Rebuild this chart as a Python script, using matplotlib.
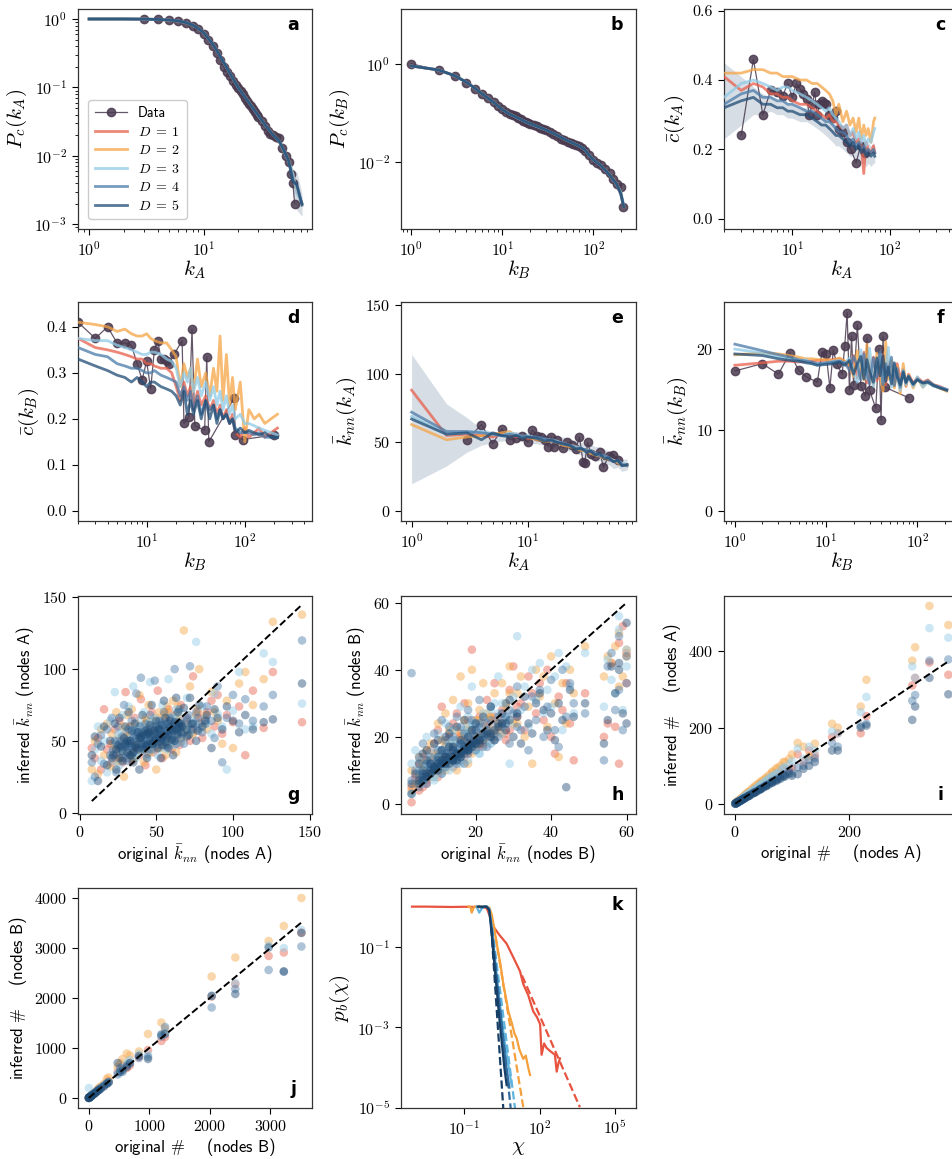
import numpy as np
import matplotlib
matplotlib.use('Agg')
import matplotlib.pyplot as plt
from matplotlib.ticker import NullLocator, FixedLocator, FormatStrFormatter

plt.rcParams.update({
    'font.family': 'cmr10',
    'mathtext.fontset': 'cm',
    'axes.formatter.use_mathtext': True,
    'axes.unicode_minus': False,
    'font.size': 11.5,
    'axes.linewidth': 0.9,
    'axes.edgecolor': '#333333',
    'xtick.labelsize': 11.5,
    'ytick.labelsize': 11.5,
    'xtick.major.size': 4.5,
    'ytick.major.size': 4.5,
    'xtick.minor.size': 2.5,
    'ytick.minor.size': 2.5,
})

col_data = '#4a3a4f'
cols = ['#e8604c', '#f6a445', '#8ecae6', '#4a7aa8', '#1f4b74']
labels_D = [r'$D \;=\; 1$', r'$D \;=\; 2$', r'$D \;=\; 3$', r'$D \;=\; 4$', r'$D \;=\; 5$']

# ---------------- panel a : CCDF of k_A ----------------
a_k = [3, 4, 5, 6, 7, 8, 9, 10, 11, 12, 13, 14, 15, 16, 17, 18, 19, 20, 21, 22, 23, 24, 25, 26,
       27, 28, 29, 30, 32, 34, 36, 38, 40, 43, 45, 48, 52, 55, 58, 60, 62]
a_data = [1.0, 0.99, 0.97, 0.94, 0.88, 0.80, 0.71, 0.61, 0.50, 0.40, 0.32, 0.25, 0.20, 0.17, 0.145,
          0.125, 0.11, 0.098, 0.088, 0.079, 0.071, 0.064, 0.058, 0.053, 0.048, 0.044, 0.040, 0.037,
          0.032, 0.027, 0.023, 0.021, 0.020, 0.019, 0.018, 0.013, 0.010, 0.008, 0.0055, 0.004, 0.002]
a_km = [1, 2, 3, 4, 5, 6, 7, 8, 9, 10, 12, 14, 16, 18, 20, 23, 26, 30, 35, 40, 45, 50, 55, 60, 65, 72]
a_D1 = [1.0, 1.0, 0.995, 0.985, 0.965, 0.935, 0.885, 0.815, 0.725, 0.63, 0.43, 0.28, 0.19, 0.135,
        0.10, 0.072, 0.054, 0.039, 0.027, 0.0205, 0.017, 0.012, 0.0085, 0.0052, 0.003, 0.002]
a_D2 = [1.0, 1.0, 0.995, 0.984, 0.963, 0.933, 0.884, 0.815, 0.727, 0.632, 0.432, 0.282, 0.19, 0.136,
        0.101, 0.073, 0.055, 0.039, 0.027, 0.021, 0.017, 0.012, 0.0088, 0.0048, 0.0032, 0.002]
a_D3 = [1.0, 1.0, 0.995, 0.985, 0.964, 0.934, 0.885, 0.814, 0.724, 0.628, 0.428, 0.279, 0.189, 0.134,
        0.099, 0.072, 0.054, 0.038, 0.027, 0.0205, 0.0168, 0.0118, 0.0083, 0.0055, 0.0028, 0.002]
a_D4 = [1.0, 1.0, 0.995, 0.985, 0.965, 0.935, 0.886, 0.816, 0.726, 0.63, 0.43, 0.28, 0.19, 0.135,
        0.10, 0.072, 0.054, 0.039, 0.027, 0.0205, 0.017, 0.0122, 0.0086, 0.0045, 0.0036, 0.002]
a_D5 = [1.0, 1.0, 0.995, 0.985, 0.965, 0.935, 0.885, 0.815, 0.725, 0.63, 0.43, 0.28, 0.19, 0.135,
        0.10, 0.072, 0.054, 0.039, 0.027, 0.0205, 0.017, 0.012, 0.0085, 0.0042, 0.0038, 0.0019]
a_lo = [0.99, 0.99, 0.985, 0.975, 0.955, 0.925, 0.875, 0.805, 0.715, 0.62, 0.42, 0.272, 0.184, 0.13,
        0.096, 0.069, 0.051, 0.036, 0.025, 0.0188, 0.0152, 0.0104, 0.007, 0.0028, 0.0016, 0.0013]
a_hi = [1.0, 1.0, 1.0, 0.995, 0.975, 0.945, 0.895, 0.825, 0.735, 0.64, 0.44, 0.288, 0.196, 0.14,
        0.104, 0.075, 0.057, 0.042, 0.029, 0.0222, 0.0188, 0.0136, 0.010, 0.0062, 0.0058, 0.0028]

# ---------------- panel b : CCDF of k_B ----------------
b_k = [1, 2, 3, 4, 5, 6, 7, 8, 9, 10, 11, 12, 13, 14, 15, 16, 17, 18, 19, 20, 22, 24, 26, 28, 30,
       33, 36, 40, 44, 48, 52, 56, 60, 65, 70, 75, 80, 90, 100, 110, 120, 135, 150, 165, 180, 200, 210]
b_data = [1.02, 0.75, 0.57, 0.42, 0.31, 0.24, 0.20, 0.165, 0.14, 0.12, 0.107, 0.097, 0.09, 0.085,
          0.079, 0.074, 0.07, 0.066, 0.063, 0.06, 0.057, 0.053, 0.05, 0.047, 0.044, 0.04, 0.037,
          0.033, 0.03, 0.028, 0.026, 0.024, 0.023, 0.022, 0.021, 0.0195, 0.017, 0.014, 0.011,
          0.0095, 0.0088, 0.007, 0.0058, 0.0045, 0.0035, 0.003, 0.0012]
b_km = [1, 2, 3, 4, 5, 6, 7, 8, 10, 12, 15, 18, 20, 25, 30, 40, 50, 60, 70, 80, 90, 100, 120, 150,
        180, 200, 215]
b_D1 = [0.92, 0.76, 0.58, 0.43, 0.32, 0.245, 0.20, 0.165, 0.118, 0.095, 0.078, 0.066, 0.061, 0.052,
        0.045, 0.035, 0.028, 0.024, 0.021, 0.018, 0.0135, 0.011, 0.0085, 0.0055, 0.0035, 0.0022, 0.0012]
b_D2 = [0.92, 0.76, 0.58, 0.43, 0.32, 0.246, 0.20, 0.166, 0.119, 0.096, 0.078, 0.066, 0.061, 0.052,
        0.045, 0.035, 0.028, 0.024, 0.021, 0.018, 0.0136, 0.011, 0.0086, 0.0056, 0.0036, 0.0023, 0.0012]
b_D3 = [0.92, 0.76, 0.58, 0.43, 0.32, 0.245, 0.20, 0.165, 0.118, 0.095, 0.077, 0.066, 0.060, 0.051,
        0.045, 0.035, 0.028, 0.024, 0.021, 0.018, 0.0134, 0.011, 0.0084, 0.0055, 0.0034, 0.0024, 0.0013]
b_D4 = [0.92, 0.76, 0.58, 0.43, 0.32, 0.245, 0.20, 0.165, 0.118, 0.095, 0.078, 0.066, 0.061, 0.052,
        0.045, 0.035, 0.028, 0.024, 0.021, 0.018, 0.0135, 0.011, 0.0085, 0.0054, 0.0035, 0.0021, 0.0012]
b_D5 = [0.92, 0.76, 0.58, 0.43, 0.32, 0.245, 0.20, 0.165, 0.118, 0.095, 0.078, 0.066, 0.061, 0.052,
        0.045, 0.035, 0.028, 0.024, 0.021, 0.018, 0.0135, 0.011, 0.0085, 0.0055, 0.0035, 0.0022, 0.0012]

# ---------------- panel c : clustering vs k_A ----------------
c_k = [3, 4, 5, 6, 7, 8, 9, 10, 11, 12, 13, 14, 15, 16, 17, 18, 19, 20, 21, 22, 24, 26, 28, 30,
       33, 36, 40, 45, 50, 55]
c_data = [0.24, 0.46, 0.30, 0.37, 0.365, 0.355, 0.39, 0.35, 0.39, 0.375, 0.36, 0.345, 0.30, 0.33,
          0.365, 0.30, 0.33, 0.34, 0.335, 0.33, 0.30, 0.29, 0.31, 0.26, 0.25, 0.22, 0.20, 0.16,
          0.21, 0.19]
c_km = [2, 3, 4, 5, 6, 7, 8, 9, 10, 12, 14, 16, 18, 20, 22, 24, 26, 28, 30, 33, 36, 39, 42, 45,
        48, 51, 54, 57, 60, 64, 68, 70]
c_D1 = [0.41, 0.37, 0.39, 0.38, 0.36, 0.36, 0.35, 0.35, 0.34, 0.33, 0.33, 0.32, 0.31, 0.30, 0.29,
        0.30, 0.28, 0.28, 0.27, 0.26, 0.27, 0.24, 0.25, 0.22, 0.23, 0.21, 0.13, 0.22, 0.20, 0.19, 0.21, 0.19]
c_D2 = [0.42, 0.42, 0.43, 0.43, 0.42, 0.42, 0.41, 0.41, 0.41, 0.40, 0.40, 0.39, 0.39, 0.38, 0.37,
        0.36, 0.34, 0.30, 0.33, 0.28, 0.31, 0.27, 0.29, 0.25, 0.29, 0.23, 0.27, 0.24, 0.26, 0.22, 0.28, 0.29]
c_D3 = [0.35, 0.39, 0.40, 0.39, 0.38, 0.37, 0.38, 0.38, 0.37, 0.36, 0.35, 0.34, 0.33, 0.32, 0.31,
        0.32, 0.30, 0.29, 0.28, 0.26, 0.27, 0.24, 0.26, 0.23, 0.25, 0.22, 0.24, 0.21, 0.23, 0.22, 0.25, 0.26]
c_D4 = [0.33, 0.36, 0.37, 0.35, 0.35, 0.34, 0.34, 0.33, 0.33, 0.32, 0.31, 0.31, 0.30, 0.29, 0.28,
        0.28, 0.27, 0.26, 0.25, 0.25, 0.24, 0.22, 0.23, 0.21, 0.22, 0.20, 0.21, 0.19, 0.20, 0.19, 0.20, 0.19]
c_D5 = [0.32, 0.34, 0.35, 0.33, 0.33, 0.32, 0.32, 0.31, 0.31, 0.30, 0.30, 0.29, 0.28, 0.27, 0.27,
        0.26, 0.25, 0.24, 0.24, 0.23, 0.22, 0.21, 0.22, 0.20, 0.21, 0.19, 0.20, 0.18, 0.19, 0.18, 0.19, 0.18]
c_lo = [0.23, 0.27, 0.30, 0.30, 0.31, 0.30, 0.30, 0.29, 0.29, 0.28, 0.28, 0.27, 0.26, 0.25, 0.24,
        0.23, 0.22, 0.21, 0.21, 0.20, 0.19, 0.18, 0.18, 0.17, 0.17, 0.16, 0.16, 0.15, 0.16, 0.15, 0.16, 0.16]
c_hi = [0.45, 0.41, 0.38, 0.36, 0.35, 0.34, 0.34, 0.33, 0.33, 0.32, 0.32, 0.31, 0.30, 0.29, 0.29,
        0.28, 0.28, 0.27, 0.27, 0.26, 0.25, 0.24, 0.25, 0.23, 0.24, 0.22, 0.23, 0.21, 0.22, 0.21, 0.22, 0.21]

# ---------------- panel d : clustering vs k_B ----------------
d_k = [2, 3, 4, 5, 6, 7, 8, 9, 10, 11, 12, 13, 14, 15, 16, 17, 19, 23, 24, 27, 29, 31, 39, 41, 43,
       78, 80, 95, 200]
d_data = [0.41, 0.375, 0.40, 0.365, 0.365, 0.36, 0.32, 0.285, 0.325, 0.265, 0.35, 0.37, 0.33, 0.33,
          0.325, 0.32, 0.34, 0.37, 0.19, 0.205, 0.395, 0.185, 0.175, 0.335, 0.15, 0.245, 0.165,
          0.155, 0.165]
d_km = [2, 3, 4, 5, 6, 7, 8, 9, 10, 11, 12, 14, 16, 18, 20, 22, 24, 26, 28, 30, 33, 36, 40, 44,
        48, 52, 56, 60, 65, 70, 75, 80, 90, 100, 110, 125, 140, 160, 185, 215]
d_D1 = [0.375, 0.355, 0.35, 0.345, 0.34, 0.335, 0.33, 0.33, 0.32, 0.32, 0.315, 0.31, 0.31, 0.30,
        0.27, 0.24, 0.28, 0.25, 0.27, 0.22, 0.26, 0.23, 0.25, 0.22, 0.24, 0.21, 0.23, 0.20, 0.22,
        0.19, 0.21, 0.17, 0.16, 0.18, 0.16, 0.17, 0.18, 0.16, 0.17, 0.18]
d_D2 = [0.41, 0.405, 0.40, 0.39, 0.395, 0.385, 0.38, 0.38, 0.385, 0.375, 0.37, 0.365, 0.365, 0.35,
        0.335, 0.27, 0.32, 0.29, 0.31, 0.26, 0.33, 0.27, 0.30, 0.25, 0.31, 0.26, 0.38, 0.24, 0.34,
        0.23, 0.29, 0.22, 0.28, 0.15, 0.22, 0.20, 0.21, 0.19, 0.20, 0.21]
d_D3 = [0.375, 0.37, 0.37, 0.36, 0.355, 0.35, 0.345, 0.34, 0.34, 0.345, 0.345, 0.34, 0.33, 0.325,
        0.31, 0.27, 0.30, 0.28, 0.31, 0.26, 0.29, 0.25, 0.28, 0.24, 0.27, 0.23, 0.26, 0.22, 0.25,
        0.21, 0.23, 0.20, 0.21, 0.19, 0.19, 0.185, 0.18, 0.175, 0.17, 0.165]
d_D4 = [0.355, 0.34, 0.335, 0.32, 0.315, 0.31, 0.31, 0.305, 0.30, 0.30, 0.305, 0.295, 0.29, 0.285,
        0.28, 0.25, 0.27, 0.24, 0.26, 0.22, 0.25, 0.21, 0.24, 0.22, 0.23, 0.20, 0.22, 0.20, 0.21,
        0.19, 0.20, 0.18, 0.17, 0.17, 0.17, 0.165, 0.17, 0.16, 0.16, 0.16]
d_D5 = [0.33, 0.315, 0.305, 0.295, 0.29, 0.28, 0.29, 0.28, 0.27, 0.28, 0.28, 0.27, 0.265, 0.26,
        0.25, 0.23, 0.26, 0.21, 0.24, 0.21, 0.24, 0.20, 0.24, 0.20, 0.23, 0.19, 0.22, 0.20, 0.21,
        0.19, 0.20, 0.17, 0.18, 0.17, 0.175, 0.17, 0.165, 0.17, 0.16, 0.16]

# ---------------- panel e : knn vs k_A ----------------
e_k = [3, 4, 5, 6, 7, 8, 9, 10, 11, 12, 13, 14, 15, 16, 17, 18, 20, 22, 24, 26, 28, 30, 31, 33,
       35, 38, 42, 45, 50, 55, 60]
e_data = [52, 63, 49, 60, 52, 53, 55, 50, 59, 55, 54, 52, 47, 54, 47, 52, 46, 50, 48, 45, 54, 36,
          35, 50, 42, 40, 43, 32, 40, 41, 37]
e_km = [1, 2, 3, 4, 5, 6, 7, 8, 9, 10, 12, 14, 16, 18, 20, 23, 26, 29, 32, 35, 38, 42, 46, 50, 55,
        60, 65, 72]
e_D1 = [88, 55, 56, 55, 54, 56, 55, 54, 55, 53, 53, 52, 52, 50, 50, 48, 47, 45, 44, 43, 42, 40, 41,
        38, 37, 36, 34, 34]
e_D2 = [63, 52, 54, 55, 56, 57, 58, 55, 54, 54, 52, 51, 51, 50, 48, 47, 46, 44, 45, 42, 41, 40, 38,
        38, 37, 35, 34, 33]
e_D3 = [69, 56, 57, 58, 56, 55, 57, 56, 54, 55, 53, 52, 52, 51, 49, 48, 47, 46, 44, 44, 42, 41, 40,
        39, 37, 36, 35, 34]
e_D4 = [72, 58, 58, 57, 56, 55, 56, 55, 55, 54, 54, 53, 51, 50, 50, 48, 46, 45, 45, 43, 42, 40, 41,
        38, 36, 37, 34, 33]
e_D5 = [67, 56, 57, 52, 57, 55, 54, 55, 53, 54, 53, 51, 52, 50, 49, 48, 45, 46, 43, 44, 41, 42, 38,
        39, 36, 37, 33, 34]
e_lo = [20, 33, 43, 48, 50, 51, 52, 51, 51, 50, 49, 48, 47, 46, 45, 44, 42, 41, 39, 39, 36, 37, 34,
        34, 31, 32, 29, 30]
e_hi = [114, 78, 68, 60, 58, 58, 58, 58, 57, 57, 57, 56, 56, 55, 54, 53, 51, 50, 49, 49, 47, 47, 45,
        44, 42, 42, 38, 38]

# ---------------- panel f : knn vs k_B ----------------
f_k = [1, 2, 3, 4, 5, 6, 8, 9, 10, 11, 12, 13, 15, 16, 17, 18, 19, 20, 22, 24, 27, 28, 30, 35, 38,
       40, 42, 44, 80]
f_data = [17.3, 18.2, 16.9, 19.5, 17.4, 16.6, 15.9, 19.6, 19.4, 15.2, 19.9, 18.2, 16.9, 20.4, 24.5,
          14.9, 21.6, 15.6, 23.0, 15.4, 14.2, 21.4, 14.9, 12.7, 20.0, 11.2, 21.6, 15.3, 14.0]
f_km = [1, 2, 3, 4, 5, 6, 7, 8, 10, 12, 14, 16, 18, 20, 22, 24, 26, 28, 30, 33, 36, 39, 42, 45, 48,
        52, 56, 60, 65, 70, 75, 80, 90, 100, 115, 130, 150, 175, 210]
f_D1 = [18.0, 18.3, 18.5, 18.5, 18.4, 18.5, 18.5, 18.6, 18.6, 18.7,
        18.8, 18.5, 17.6, 19.2, 16.4, 18.0, 19.6, 15.8, 17.9, 19.0,
        16.1, 17.2, 19.3, 15.6, 18.4, 16.9, 15.5, 18.2, 16.4, 17.5,
        15.4, 16.9, 15.8, 16.5, 15.9, 16.2, 15.6, 15.4, 15.0]
f_D2 = [19.3, 19.5, 19.4, 19.2, 19.0, 18.8, 18.8, 18.7, 18.7, 18.6,
        18.9, 18.5, 18.0, 16.6, 19.8, 17.4, 16.2, 20.6, 17.1, 15.6,
        19.5, 16.8, 14.8, 20.9, 16.3, 18.6, 15.2, 17.9, 14.5, 18.2,
        15.5, 16.8, 15.2, 16.4, 15.3, 16.0, 15.5, 15.2, 14.8]
f_D3 = [20.0, 19.5, 19.0, 18.8, 18.5, 18.7, 18.2, 18.0, 18.3, 18.5,
        18.6, 18.2, 18.9, 17.1, 15.9, 19.9, 17.5, 16.3, 20.1, 15.4,
        18.3, 19.4, 15.9, 17.2, 20.2, 15.3, 18.1, 16.5, 14.9, 17.4,
        15.6, 16.6, 15.4, 16.6, 15.3, 15.9, 15.4, 15.3, 15.0]
f_D4 = [20.6, 19.8, 19.3, 19.0, 18.7, 18.5, 18.4, 18.2, 18.3, 18.4,
        18.5, 18.3, 17.4, 19.1, 18.0, 16.2, 19.4, 17.0, 15.7, 18.9,
        16.5, 19.7, 15.6, 18.2, 16.8, 19.0, 15.5, 17.6, 15.3, 17.3,
        15.8, 16.7, 15.6, 16.3, 15.8, 16.1, 15.6, 15.3, 15.0]
f_D5 = [19.4, 19.2, 18.8, 18.6, 18.5, 18.3, 18.2, 18.0, 18.1, 18.2,
        18.4, 18.0, 18.6, 16.9, 18.2, 19.1, 16.3, 18.7, 17.2, 15.9,
        18.9, 16.7, 19.2, 16.0, 17.8, 15.7, 18.3, 16.6, 15.6, 17.1,
        15.9, 16.6, 15.7, 16.2, 15.8, 15.9, 15.5, 15.2, 14.9]

# ---------------- panel g : knn of nodes A, original vs inferred ----------------
g_orig = [8, 10, 12, 14, 16, 18, 20, 21, 23, 24,
          25, 26, 28, 29, 30, 31, 32, 33, 34, 35,
          36, 37, 38, 39, 40, 41, 42, 43, 44, 45,
          46, 47, 48, 49, 50, 51, 52, 53, 54, 55,
          56, 57, 58, 59, 60, 61, 62, 63, 64, 65,
          66, 68, 70, 72, 74, 76, 78, 80, 83, 86,
          88, 90, 93, 96, 100, 104, 108, 113, 120, 126, 145,
          22, 27, 33, 38, 42, 47, 52, 57, 62, 67,
          24, 30, 35, 40, 44, 48, 53, 58, 63, 70,
          26, 31, 36, 41, 45, 50, 54, 59, 64, 73,
          28, 34, 39, 43, 46, 51, 55, 60, 66, 77,
          32, 37, 44, 49, 53, 56, 61, 65, 71, 82]
g_D1 = [45, 38, 52, 30, 72, 44, 48, 35, 58, 42,
        50, 64, 38, 47, 84, 55, 43, 60, 36, 52,
        66, 45, 54, 40, 79, 50, 57, 33, 62, 48,
        55, 70, 42, 58, 51, 85, 46, 60, 38, 57,
        64, 49, 72, 55, 44, 61, 68, 52, 58, 47,
        75, 56, 62, 50, 95, 58, 66, 52, 70, 78,
        60, 82, 55, 68, 63, 74, 40, 85, 59, 98, 63,
        42, 48, 55, 44, 50, 58, 47, 62, 55, 60,
        38, 52, 45, 60, 48, 56, 63, 50, 58, 66,
        46, 40, 53, 49, 62, 44, 57, 66, 52, 59,
        35, 50, 58, 46, 55, 60, 49, 54, 64, 70,
        44, 56, 41, 63, 52, 48, 67, 57, 61, 65]
g_D2 = [30, 50, 27, 58, 40, 62, 32, 55, 45, 70,
        36, 52, 60, 25, 48, 68, 40, 55, 72, 46,
        38, 62, 50, 82, 44, 58, 35, 66, 53, 75,
        42, 57, 63, 49, 30, 60, 70, 45, 56, 65,
        40, 74, 52, 60, 48, 78, 55, 42, 68, 58,
        50, 127, 60, 88, 55, 68, 100, 62, 58, 84,
        70, 64, 48, 78, 45, 90, 98, 75, 93, 133, 138,
        48, 40, 60, 52, 45, 62, 55, 48, 66, 58,
        44, 56, 38, 50, 64, 47, 52, 70, 56, 63,
        36, 52, 48, 58, 42, 66, 60, 52, 74, 55,
        50, 42, 55, 62, 50, 45, 68, 58, 52, 72,
        40, 48, 62, 54, 46, 70, 56, 63, 58, 68]
g_D3 = [22, 44, 60, 36, 50, 28, 64, 42, 84, 48,
        55, 33, 68, 50, 41, 58, 74, 46, 52, 88,
        57, 38, 64, 50, 60, 44, 70, 54, 40, 62,
        91, 48, 55, 66, 52, 40, 63, 56, 75, 50,
        59, 44, 93, 61, 53, 66, 47, 72, 56, 62,
        49, 60, 80, 55, 64, 119, 58, 74, 62, 55,
        83, 69, 60, 30, 71, 98, 58, 60, 111, 105, 76,
        36, 55, 46, 58, 52, 44, 60, 56, 50, 64,
        50, 42, 58, 47, 55, 62, 45, 60, 66, 57,
        42, 48, 54, 60, 47, 53, 64, 48, 58, 62,
        46, 58, 42, 52, 64, 56, 51, 67, 55, 60,
        52, 40, 56, 48, 58, 62, 54, 70, 60, 66]
g_D4 = [35, 25, 48, 54, 34, 58, 40, 66, 50, 28,
        60, 45, 53, 75, 46, 38, 58, 50, 64, 42,
        56, 83, 48, 60, 94, 55, 46, 62, 50, 58,
        68, 44, 60, 92, 55, 49, 64, 58, 52, 70,
        47, 62, 57, 66, 51, 59, 100, 62, 54, 72,
        60, 48, 66, 102, 58, 70, 62, 56, 74, 64,
        52, 88, 35, 66, 82, 62, 79, 64, 74, 82, 120,
        44, 50, 40, 56, 48, 53, 58, 46, 60, 55,
        41, 47, 52, 45, 58, 50, 55, 62, 48, 64,
        48, 36, 50, 56, 44, 60, 52, 57, 63, 58,
        38, 46, 54, 49, 53, 47, 60, 55, 52, 66,
        46, 52, 47, 58, 62, 54, 50, 59, 68, 62]
g_D5 = [40, 53, 22, 46, 60, 33, 50, 38, 62, 30,
        47, 66, 36, 52, 60, 42, 70, 40, 57, 35,
        62, 47, 56, 30, 53, 68, 44, 57, 38, 55,
        61, 75, 48, 57, 64, 45, 58, 38, 61, 78,
        66, 52, 45, 64, 58, 40, 63, 80, 70, 60,
        56, 73, 58, 80, 62, 50, 75, 60, 68, 45,
        72, 66, 58, 74, 64, 56, 68, 58, 63, 65, 90,
        40, 46, 50, 44, 54, 48, 52, 57, 50, 60,
        44, 48, 42, 52, 47, 55, 50, 54, 58, 53,
        38, 50, 46, 48, 56, 52, 47, 60, 55, 62,
        43, 40, 52, 46, 50, 58, 54, 51, 62, 57,
        48, 45, 55, 50, 53, 49, 57, 62, 54, 64]

# ---------------- panel h : knn of nodes B ----------------
h_orig = [3, 3, 4, 5, 5, 6, 6, 7, 7, 8,
          8, 9, 9, 10, 10, 11, 11, 12, 12, 13,
          13, 14, 14, 15, 15, 16, 16, 17, 17, 18,
          18, 19, 19, 20, 21, 22, 23, 24, 25, 26,
          27, 28, 29, 30, 31, 32, 33, 34, 35, 36,
          37, 38, 39, 40, 41, 42, 43, 44, 45, 46,
          49, 54, 55, 56, 57, 58, 59, 60, 60, 58,
          5, 6, 7, 8, 9, 10, 11, 12, 13, 14,
          15, 16, 17, 18, 19, 20, 21, 22, 23, 24,
          6, 8, 10, 12, 14, 16, 18, 20, 22, 25,
          7, 9, 11, 13, 15, 17, 19, 21, 26, 28,
          10, 12, 14, 16, 18, 20, 24, 27, 29, 31]
h_D1 = [0.5, 5, 8, 12, 4, 10, 14, 7, 11, 16,
        9, 13, 18, 11, 22, 14, 29, 17, 12, 20,
        15, 24, 13, 19, 27, 16, 21, 14, 30, 18,
        25, 22, 46, 17, 26, 20, 31, 24, 36, 22,
        28, 19, 34, 41, 26, 30, 22, 38, 33, 27,
        36, 25, 40, 20, 15, 32, 28, 36, 24, 13,
        33, 20, 24, 42, 23, 12, 53, 45, 36, 48,
        8, 5, 11, 9, 14, 10, 15, 12, 17, 13,
        18, 14, 20, 16, 22, 19, 17, 24, 20, 22,
        9, 12, 8, 15, 13, 19, 16, 21, 18, 26,
        6, 10, 14, 12, 17, 15, 20, 18, 23, 21,
        13, 16, 11, 20, 15, 24, 19, 25, 22, 29]
h_D2 = [4, 10, 6, 14, 9, 7, 12, 16, 10, 13,
        18, 8, 15, 24, 12, 19, 10, 27, 16, 22,
        12, 18, 31, 10, 22, 38, 15, 25, 20, 12,
        30, 17, 40, 22, 28, 36, 19, 26, 33, 24,
        36, 29, 41, 24, 33, 38, 20, 29, 12, 40,
        32, 38, 23, 44, 30, 14, 36, 24, 40, 33,
        47, 38, 44, 42, 47, 51, 38, 44, 46, 35,
        6, 10, 8, 13, 11, 15, 12, 17, 14, 18,
        14, 20, 17, 23, 15, 25, 21, 18, 27, 22,
        11, 8, 14, 10, 18, 15, 22, 17, 24, 20,
        9, 13, 10, 16, 14, 21, 17, 25, 22, 30,
        10, 18, 15, 13, 22, 18, 26, 21, 33, 24]
h_D3 = [12, 3, 16, 9, 13, 6, 11, 20, 8, 15,
        11, 17, 7, 14, 21, 9, 16, 13, 24, 10,
        18, 11, 22, 14, 17, 29, 12, 21, 16, 26,
        13, 35, 20, 24, 15, 27, 22, 18, 30, 38,
        21, 26, 12, 32, 50, 28, 35, 23, 40, 31,
        42, 27, 34, 29, 38, 45, 22, 41, 35, 27,
        45, 29, 43, 37, 33, 56, 28, 46, 41, 52,
        10, 7, 12, 10, 8, 14, 11, 16, 13, 19,
        16, 13, 22, 18, 24, 16, 23, 20, 19, 28,
        7, 13, 11, 17, 12, 14, 21, 18, 25, 23,
        11, 8, 16, 13, 19, 16, 24, 15, 27, 25,
        14, 11, 19, 17, 23, 21, 18, 30, 24, 27]
h_D4 = [7, 39, 10, 5, 14, 9, 18, 12, 8, 11,
        14, 10, 21, 16, 12, 25, 13, 19, 15, 23,
        17, 13, 20, 26, 15, 18, 23, 12, 21, 28,
        16, 22, 25, 19, 31, 17, 24, 29, 21, 26,
        23, 30, 18, 27, 35, 22, 29, 16, 32, 25,
        34, 20, 29, 37, 22, 17, 40, 26, 36, 30,
        27, 13, 41, 45, 28, 34, 22, 36, 44, 50,
        7, 9, 6, 12, 10, 13, 16, 11, 15, 17,
        13, 17, 15, 20, 18, 16, 24, 21, 17, 25,
        9, 11, 13, 12, 16, 18, 15, 22, 20, 19,
        8, 12, 9, 15, 12, 19, 17, 23, 20, 26,
        12, 15, 13, 18, 16, 22, 20, 24, 28, 23]
h_D5 = [3, 6, 9, 12, 7, 15, 10, 13, 16, 9,
        12, 18, 11, 14, 19, 12, 16, 20, 14, 17,
        21, 13, 17, 15, 23, 14, 19, 16, 25, 18,
        20, 17, 22, 24, 18, 26, 21, 29, 19, 24,
        27, 22, 31, 20, 26, 18, 32, 24, 21, 30,
        33, 28, 22, 27, 19, 30, 25, 5, 34, 26,
        30, 18, 25, 41, 33, 40, 27, 24, 54, 42,
        6, 8, 9, 10, 11, 12, 13, 14, 12, 16,
        15, 14, 17, 16, 18, 20, 19, 21, 22, 20,
        7, 9, 11, 12, 13, 15, 16, 18, 19, 22,
        8, 10, 12, 14, 13, 16, 18, 19, 23, 24,
        10, 13, 14, 15, 17, 18, 21, 24, 25, 27]

# ---------------- panel i : counts of nodes A ----------------
i_orig = [1, 2, 3, 4, 5, 6, 8, 10, 12, 14, 16, 18, 20, 23, 26, 30, 34, 38, 42, 46,
          50, 55, 60, 66, 72, 80, 88, 100, 110, 120, 130, 140, 170, 180, 220, 230, 310, 315, 340, 373,
          9, 15, 25, 35, 45, 55, 65, 75, 85, 95]
i_D1 = [1, 3, 2, 5, 6, 7, 9, 11, 14, 15, 18, 20, 22, 25, 28, 32, 37, 40, 45, 50,
        54, 58, 66, 70, 78, 85, 92, 95, 130, 112, 140, 128, 175, 185, 185, 230, 310, 330, 370, 338,
        10, 16, 27, 33, 48, 52, 70, 72, 92, 90]
i_D2 = [2, 3, 4, 6, 7, 8, 10, 13, 15, 18, 20, 24, 27, 30, 34, 40, 45, 50, 54, 60,
        63, 70, 76, 85, 92, 100, 110, 130, 160, 150, 125, 158, 210, 200, 255, 325, 375, 410, 518, 468,
        12, 19, 31, 42, 55, 66, 82, 95, 110, 118]
i_D3 = [1, 2, 3, 4, 5, 7, 9, 11, 13, 16, 18, 20, 23, 26, 30, 33, 38, 42, 47, 52,
        56, 62, 68, 74, 80, 88, 95, 112, 145, 118, 150, 140, 190, 185, 240, 280, 360, 330, 460, 435,
        9, 17, 26, 38, 49, 60, 71, 80, 96, 104]
i_D4 = [1, 2, 3, 4, 4, 6, 7, 9, 11, 12, 14, 16, 18, 20, 23, 27, 30, 34, 37, 41,
        45, 49, 53, 58, 64, 70, 76, 80, 96, 100, 115, 120, 160, 150, 205, 210, 270, 285, 375, 378,
        8, 14, 22, 31, 40, 50, 60, 66, 78, 86]
i_D5 = [1, 2, 2, 3, 5, 5, 7, 8, 10, 12, 14, 16, 17, 20, 22, 26, 29, 32, 36, 39,
        43, 47, 51, 56, 60, 66, 72, 74, 78, 92, 100, 110, 140, 140, 200, 205, 220, 255, 330, 287,
        8, 13, 22, 30, 39, 47, 56, 63, 72, 80]

# ---------------- panel j : counts of nodes B ----------------
j_orig = [2, 5, 10, 15, 20, 30, 40, 50, 60, 80, 100, 120, 150, 170, 200, 250,
          300, 330, 480, 520, 560, 630, 680, 830, 980, 1200, 1260, 2030, 2420, 2970, 3220, 3510]
j_D1 = [3, 6, 12, 16, 22, 28, 42, 48, 65, 78, 105, 118, 160, 175, 210, 240,
        310, 340, 520, 560, 640, 600, 650, 820, 960, 1140, 1220, 2030, 2280, 2840, 2910, 3310]
j_D2 = [4, 8, 10, 20, 25, 35, 45, 55, 70, 90, 110, 130, 170, 200, 230, 280,
        380, 410, 620, 700, 780, 890, 850, 930, 1280, 1510, 1380, 2430, 2810, 3140, 3440, 4000]
j_D3 = [2, 200, 12, 14, 18, 32, 38, 52, 58, 85, 98, 125, 150, 165, 205, 255,
        300, 320, 500, 540, 600, 700, 760, 880, 870, 1260, 1300, 2050, 2300, 3050, 3000, 3360]
j_D4 = [2, 4, 9, 15, 19, 30, 40, 50, 62, 80, 96, 115, 150, 170, 195, 245,
        290, 320, 470, 600, 520, 650, 690, 800, 820, 1230, 1420, 1810, 2180, 2560, 2530, 3030]
j_D5 = [1, 3, 8, 13, 18, 27, 36, 45, 55, 72, 90, 110, 140, 160, 185, 230,
        280, 310, 700, 520, 560, 620, 700, 840, 780, 1270, 1280, 2040, 2080, 3010, 2530, 3300]

# ---------------- panel k : p_b(chi) ----------------
k_chi_D1 = [8.5e-4, 3e-3, 0.01, 0.03, 0.1, 0.3, 0.6, 0.8, 1.0, 1.45, 2.5, 4.9, 8.9, 16.6, 22.4,
            35.5, 56, 79, 105, 120, 151, 190, 282, 407, 479, 562, 646]
k_p_D1 = [1.0, 1.0, 0.99, 0.98, 0.99, 0.98, 0.96, 0.9, 0.63, 0.32, 0.2, 0.12, 0.056, 0.025, 0.012,
          0.0063, 0.0025, 0.0018, 0.0012, 2.1e-4, 4e-4, 3.1e-4, 2.5e-4, 2.1e-4, 8e-5, 1.3e-4, 1.7e-4]
k_chi_D2 = [0.148, 0.178, 0.2, 0.25, 0.5, 1.0, 1.26, 1.58, 2.0, 2.82, 3.63, 4.57, 5.75, 7.94, 10,
            12.3, 15.8, 22.4, 28.2, 35.5, 41.7]
k_p_D2 = [1, 1, 0.71, 1, 1, 0.95, 0.63, 0.28, 0.117, 0.035, 0.0117, 0.0056, 0.0025, 0.00126, 7.1e-4,
          5.4e-4, 2.8e-4, 1.66e-4, 2e-4, 1e-4, 6.6e-5]
k_chi_D3 = [0.316, 0.398, 0.5, 0.63, 0.79, 1.0, 1.26, 1.58, 2.0, 2.51, 3.16, 3.98, 5.01, 6.31, 7.76]
k_p_D3 = [1, 0.71, 0.89, 1, 1, 0.89, 0.32, 0.079, 0.02, 0.005, 0.0016, 5e-4, 2e-4, 7.9e-5, 3.7e-5]
k_chi_D4 = [0.4, 0.5, 0.63, 0.79, 1.0, 1.26, 1.58, 2.0, 2.51, 3.16, 3.98, 5.01, 6.3]
k_p_D4 = [1, 0.95, 1, 1, 0.85, 0.25, 0.055, 0.013, 0.0032, 9e-4, 2.5e-4, 8e-5, 3.2e-5]
k_chi_D5 = [0.35, 0.5, 0.63, 0.79, 1.0, 1.26, 1.58, 2.0, 2.51, 3.16, 3.98, 4.9]
k_p_D5 = [1, 1, 1, 1, 0.8, 0.2, 0.04, 0.008, 0.0017, 4e-4, 1e-4, 3.7e-5]
# dashed fits (end points)
k_fit_chi = [[20, 4000], [1.5, 22.4], [1.3, 10.5], [1.25, 7.1], [1.2, 3.6]]
k_fit_p = [[0.0195, 1.05e-5], [0.35, 1.05e-5], [0.3, 1e-5], [0.3, 1e-5], [0.3, 1e-5]]


W, H = 952, 1159
fig = plt.figure(figsize=(W / 100, H / 100), dpi=100)

rows = [(9, 229), (302, 521), (596, 814), (888, 1108)]
colx = [78, 401, 724]


def make_ax(r, c, w=235):
    top, bot = rows[r]
    return fig.add_axes([colx[c] / W, 1 - bot / H, w / W, (bot - top) / H])


def panel_letter(ax, s, bottom=False):
    y = 0.085 if bottom else 0.925
    ax.text(0.92, y, s, transform=ax.transAxes, ha='center', va='center',
            fontsize=12.5, fontweight='bold', family='DejaVu Sans')


def sans_label(ax, xl, yl):
    ax.set_xlabel(xl, family='cmss10', fontsize=12, labelpad=1.5)
    ax.set_ylabel(yl, family='cmss10', fontsize=12, labelpad=3)


def math_label(ax, xl, yl):
    ax.set_xlabel(xl, fontsize=15, labelpad=0)
    ax.set_ylabel(yl, fontsize=15)


def line_panel(ax, kd, vd, km, Ds, band=None, lw=2.0):
    ax.plot(kd, vd, '-o', color=col_data, lw=0.9, ms=6, alpha=0.85, label='Data', zorder=2)
    for i, vals in enumerate(Ds):
        ax.plot(km, vals, color=cols[i], lw=lw, alpha=0.75, label=labels_D[i], zorder=3)
    if band is not None:
        ax.fill_between(km, band[0], band[1], color='#8a9fb5', alpha=0.35, lw=0, zorder=1)


# a
ax = make_ax(0, 0, 234)
line_panel(ax, a_k, a_data, a_km, [a_D1, a_D2, a_D3, a_D4, a_D5], band=(a_lo, a_hi))
ax.set_xscale('log'); ax.set_yscale('log')
ax.set_xlim(0.8, 88); ax.set_ylim(8.5e-4, 1.4)
math_label(ax, '$k_A$', '$P_c(k_A)$')
leg = ax.legend(loc='lower left', prop={'family': 'cmss10', 'size': 10},
                handlelength=2.3, borderpad=0.45, labelspacing=0.32, handletextpad=0.8,
                framealpha=1, edgecolor='#cccccc', bbox_to_anchor=(0.015, 0.015))
panel_letter(ax, 'a')

# b
ax = make_ax(0, 1)
line_panel(ax, b_k, b_data, b_km, [b_D1, b_D2, b_D3, b_D4, b_D5])
ax.set_xscale('log'); ax.set_yscale('log')
ax.set_xlim(0.77, 293); ax.set_ylim(4.2e-4, 13.5)
ax.yaxis.set_major_locator(FixedLocator([1e-2, 1e0]))
ax.yaxis.set_minor_locator(NullLocator())
math_label(ax, '$k_B$', '$P_c(k_B)$')
panel_letter(ax, 'b')

# c
ax = make_ax(0, 2)
line_panel(ax, c_k, c_data, c_km, [c_D1, c_D2, c_D3, c_D4, c_D5], band=(c_lo, c_hi))
ax.set_xscale('log')
ax.set_xlim(2, 510); ax.set_ylim(-0.03, 0.605)
ax.set_yticks([0.0, 0.2, 0.4, 0.6])
ax.yaxis.set_major_formatter(FormatStrFormatter('%.1f'))
math_label(ax, '$k_A$', r'$\bar{c}(k_A)$')
panel_letter(ax, 'c')

# d
ax = make_ax(1, 0, 234)
line_panel(ax, d_k, d_data, d_km, [d_D1, d_D2, d_D3, d_D4, d_D5])
ax.set_xscale('log')
ax.set_xlim(2, 484); ax.set_ylim(-0.022, 0.454)
ax.set_yticks([0.0, 0.1, 0.2, 0.3, 0.4])
ax.yaxis.set_major_formatter(FormatStrFormatter('%.1f'))
math_label(ax, '$k_B$', r'$\bar{c}(k_B)$')
panel_letter(ax, 'd')

# e
ax = make_ax(1, 1)
line_panel(ax, e_k, e_data, e_km, [e_D1, e_D2, e_D3, e_D4, e_D5], band=(e_lo, e_hi))
ax.set_xscale('log')
ax.set_xlim(0.81, 86); ax.set_ylim(-7, 152)
ax.set_yticks([0, 50, 100, 150])
math_label(ax, '$k_A$', r'$\bar{k}_{nn}(k_A)$')
panel_letter(ax, 'e')

# f
ax = make_ax(1, 2)
line_panel(ax, f_k, f_data, f_km, [f_D1, f_D2, f_D3, f_D4, f_D5])
ax.set_xscale('log')
ax.set_xlim(0.76, 286); ax.set_ylim(-1.2, 25.8)
ax.set_yticks([0, 10, 20])
math_label(ax, '$k_B$', r'$\bar{k}_{nn}(k_B)$')
panel_letter(ax, 'f')


def scatter_panel(ax, orig, Ds):
    for i, vals in enumerate(Ds):
        ax.scatter(orig, vals, s=38, color=cols[i], alpha=0.45, edgecolors='none', zorder=2)
    lo, hi = min(orig), max(orig)
    ax.plot([lo, hi], [lo, hi], '--', color='black', lw=1.4, zorder=3)


# g
ax = make_ax(2, 0, 234)
scatter_panel(ax, g_orig, [g_D1, g_D2, g_D3, g_D4, g_D5])
ax.set_xlim(-1, 151.5); ax.set_ylim(-1, 151)
ax.set_xticks([0, 50, 100, 150]); ax.set_yticks([0, 50, 100, 150])
sans_label(ax, r'original $\bar{k}_{nn}$ (nodes A)', r'inferred $\bar{k}_{nn}$ (nodes A)')
panel_letter(ax, 'g', bottom=True)

# h
ax = make_ax(2, 1)
scatter_panel(ax, h_orig, [h_D1, h_D2, h_D3, h_D4, h_D5])
ax.set_xlim(0.2, 62.5); ax.set_ylim(-3, 62)
ax.set_xticks([20, 40, 60]); ax.set_yticks([0, 20, 40, 60])
sans_label(ax, r'original $\bar{k}_{nn}$ (nodes B)', r'inferred $\bar{k}_{nn}$ (nodes B)')
panel_letter(ax, 'h', bottom=True)

# i
ax = make_ax(2, 2)
scatter_panel(ax, i_orig, [i_D1, i_D2, i_D3, i_D4, i_D5])
ax.set_xlim(-18.6, 391.6); ax.set_ylim(-26, 544)
ax.set_xticks([0, 200]); ax.set_yticks([0, 200, 400])
sans_label(ax, r'original $\#$    (nodes A)', r'inferred $\#$    (nodes A)')
panel_letter(ax, 'i', bottom=True)

# j
ax = make_ax(3, 0, 234)
scatter_panel(ax, j_orig, [j_D1, j_D2, j_D3, j_D4, j_D5])
ax.set_xlim(-175, 3685); ax.set_ylim(-200, 4200)
ax.set_xticks([0, 1000, 2000, 3000]); ax.set_yticks([0, 1000, 2000, 3000, 4000])
sans_label(ax, r'original $\#$    (nodes B)', r'inferred $\#$    (nodes B)')
panel_letter(ax, 'j', bottom=True)

# k
ax = make_ax(3, 1)
k_chis = [k_chi_D1, k_chi_D2, k_chi_D3, k_chi_D4, k_chi_D5]
k_ps = [k_p_D1, k_p_D2, k_p_D3, k_p_D4, k_p_D5]
k_cols = ['#e8533f', '#f4a03c', '#5fb3dc', '#2f6b9e', '#173f66']
for i in range(5):
    ax.plot(k_chis[i], k_ps[i], color=k_cols[i], lw=1.6)
    ax.plot(k_fit_chi[i], k_fit_p[i], '--', color=k_cols[i], lw=1.6)
ax.set_xscale('log'); ax.set_yscale('log')
ax.set_xlim(3.1e-4, 6.8e5); ax.set_ylim(1e-5, 2.9)
ax.xaxis.set_major_locator(FixedLocator([1e-1, 1e2, 1e5]))
ax.xaxis.set_minor_locator(NullLocator())
ax.yaxis.set_major_locator(FixedLocator([1e-5, 1e-3, 1e-1]))
ax.yaxis.set_minor_locator(NullLocator())
ax.set_xlabel(r'$\chi$', fontsize=15, labelpad=1); ax.set_ylabel(r'$p_b(\chi)$', fontsize=15)
panel_letter(ax, 'k')

fig.savefig('out.png', dpi=100)
